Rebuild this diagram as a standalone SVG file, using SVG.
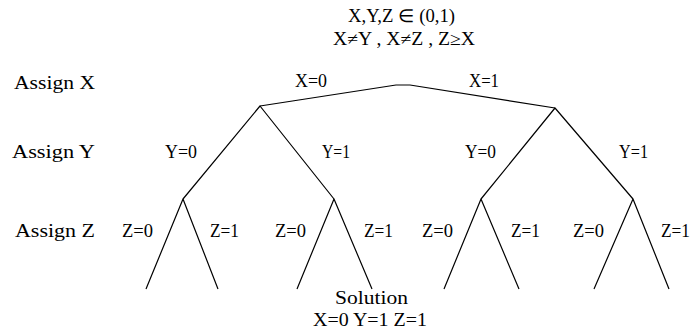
<svg xmlns="http://www.w3.org/2000/svg" width="692" height="331" viewBox="0 0 692 331">
<style>
text{font-family:"Liberation Serif","Times New Roman",serif;font-size:18px;fill:#000}
.e{stroke:#000;stroke-width:1.2;fill:none;stroke-linejoin:round}
</style>
<rect width="692" height="331" fill="#fff"/>
<g id="constraints">
<text x="348" y="22" textLength="107" lengthAdjust="spacingAndGlyphs">X,Y,Z ∈ (0,1)</text>
<text x="333" y="45" textLength="142" lengthAdjust="spacingAndGlyphs">X≠Y , X≠Z , Z≥X</text>
</g>
<g id="levels">
<text x="14" y="89" textLength="81" lengthAdjust="spacingAndGlyphs">Assign X</text>
<text x="12" y="158" textLength="83" lengthAdjust="spacingAndGlyphs">Assign Y</text>
<text x="15" y="237" textLength="80" lengthAdjust="spacingAndGlyphs">Assign Z</text>
</g>
<g id="connectors">
<polyline class="e" points="260,106 396,85 410,85 555,108"/>
<polyline class="e" points="183,199 260,106 334,199"/>
<polyline class="e" points="481,199 555,108 633,199"/>
<polyline class="e" points="146,289 183,199 218,289"/>
<polyline class="e" points="297,289 334,199 372,289"/>
<polyline class="e" points="444,289 481,199 519,289"/>
<polyline class="e" points="594,289 633,199 669,289"/>
</g>
<g id="edge-labels">
<text x="295" y="87" textLength="32" lengthAdjust="spacingAndGlyphs">X=0</text>
<text x="469" y="87" textLength="30" lengthAdjust="spacingAndGlyphs">X=1</text>
<text x="165" y="158" textLength="32" lengthAdjust="spacingAndGlyphs">Y=0</text>
<text x="322" y="158" textLength="28" lengthAdjust="spacingAndGlyphs">Y=1</text>
<text x="465" y="158" textLength="31" lengthAdjust="spacingAndGlyphs">Y=0</text>
<text x="619" y="158" textLength="29" lengthAdjust="spacingAndGlyphs">Y=1</text>
<text x="122" y="237" textLength="31" lengthAdjust="spacingAndGlyphs">Z=0</text>
<text x="210" y="237" textLength="29" lengthAdjust="spacingAndGlyphs">Z=1</text>
<text x="275" y="237" textLength="31" lengthAdjust="spacingAndGlyphs">Z=0</text>
<text x="364" y="237" textLength="29" lengthAdjust="spacingAndGlyphs">Z=1</text>
<text x="422" y="237" textLength="31" lengthAdjust="spacingAndGlyphs">Z=0</text>
<text x="511" y="237" textLength="29" lengthAdjust="spacingAndGlyphs">Z=1</text>
<text x="573" y="237" textLength="31" lengthAdjust="spacingAndGlyphs">Z=0</text>
<text x="661" y="237" textLength="29" lengthAdjust="spacingAndGlyphs">Z=1</text>
</g>
<g id="solution">
<text x="335" y="304" textLength="73" lengthAdjust="spacingAndGlyphs">Solution</text>
<text x="313" y="326" textLength="114" lengthAdjust="spacingAndGlyphs">X=0  Y=1  Z=1</text>
</g>
</svg>
